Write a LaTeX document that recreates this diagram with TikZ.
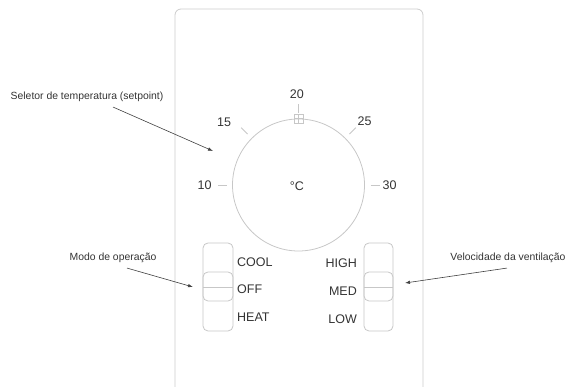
\documentclass[tikz,border=0pt]{standalone}
\usepackage{fontspec}
\setmainfont{Liberation Sans}
\usetikzlibrary{positioning}
\usetikzlibrary{arrows.meta}

\begin{document}
\begin{tikzpicture}[x=1pt, y=-1pt,
    panel/.style={draw=black!20, rounded corners=6pt, line width=0.8pt},
    dial/.style={draw=black!22, line width=0.8pt},
    dialmark/.style={draw=black!22, line width=0.8pt},
    slot/.style={draw=black!22, rounded corners=5pt, line width=0.8pt},
    lbl/.style={text=black!80, font=\fontsize{12.5}{14}\selectfont, inner sep=0pt},
    note/.style={text=black!80, font=\fontsize{10.4}{12}\selectfont, inner sep=0pt},
    arrow/.style={-{Latex[length=5pt,width=3.5pt]}, draw=black!75, line width=0.6pt}
]
\useasboundingbox (0,0) rectangle (568,387);
\clip (0,0) rectangle (568,387);

% Components
\draw[panel] (175,9) rectangle (423,400);
\node[circle, dial, minimum size=132pt, inner sep=0pt] (knob) at (298.5,185) {};
\node[lbl] (unit) at (297,186) {°C};
\foreach \ang/\val/\la/\rad in {180/10/180/94, 135/15/140/97, 90/20/91/91, 45/25/44/92, 0/30/0/91} {
    \draw[dialmark] ([shift={(-\ang:72)}]knob.center) -- ([shift={(-\ang:81)}]knob.center);
    \node[lbl] (t\val) at ([shift={(-\la:\rad)}]knob.center) {\val};
}
\draw[dialmark, line width=0.6pt] ([shift={(-4.5,-4.5)}]knob.north) rectangle ([shift={(4.5,4.5)}]knob.north);
\draw[dialmark, line width=0.6pt] ([xshift=-4.5pt]knob.north) -- ([xshift=4.5pt]knob.north);
\draw[dialmark, line width=0.6pt] ([yshift=-4.5pt]knob.north) -- ([yshift=4.5pt]knob.north);

% mode switch
\draw[slot] (203,243) rectangle (233,331);
\draw[slot] (203,272) rectangle (233,301);
\draw[dialmark] (203,287) -- (233,287);
\coordinate (modeslot) at (193,287);
\node[lbl, anchor=west] (cool) at (237,262) {COOL};
\node[lbl, anchor=west] (off) at (237,289) {OFF};
\node[lbl, anchor=west] (heat) at (237,317) {HEAT};

% fan switch
\draw[slot] (364,243) rectangle (393,331);
\draw[slot] (364,272) rectangle (393,301);
\draw[dialmark] (364,287) -- (393,287);
\coordinate (fanslot) at (405,283);
\node[lbl, anchor=east] (high) at (357,263) {HIGH};
\node[lbl, anchor=east] (med) at (357,291) {MED};
\node[lbl, anchor=east] (low) at (357,319) {LOW};

% Notes
\node[note] (setpoint) at (87,97) {Seletor de temperatura (setpoint)};
\node[note] (mode) at (113,258) {Modo de operação};
\node[note] (fan) at (508,258) {Velocidade da ventilação};
\coordinate (knobside) at (213,151);

% Flows
\draw[arrow] ([xshift=26pt,yshift=-5pt]setpoint.south) -- (knobside);
\draw[arrow] ([xshift=14pt,yshift=-5pt]mode.south) -- (modeslot);
\draw[arrow] ([xshift=-1pt,yshift=-5pt]fan.south) -- (fanslot);

\end{tikzpicture}
\end{document}
